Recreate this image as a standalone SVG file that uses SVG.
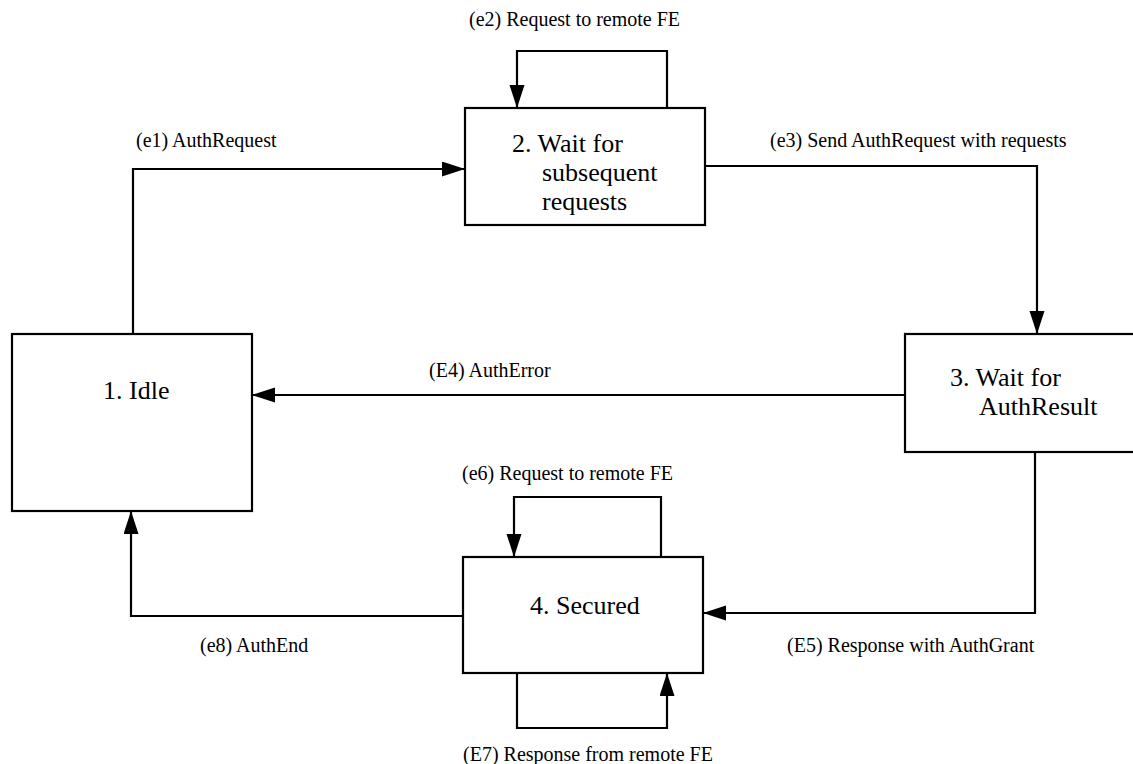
<svg xmlns="http://www.w3.org/2000/svg" width="1133" height="764" viewBox="0 0 1133 764">
<style>
.box{fill:#fff;stroke:#000;stroke-width:2.2}
.conn{fill:none;stroke:#000;stroke-width:2.2}
text{font-family:'Liberation Serif','DejaVu Serif',serif;fill:#000}
.nt{font-size:26px}
.lb{font-size:20px}
</style>
<defs>
<marker id="ah" markerUnits="userSpaceOnUse" markerWidth="24" markerHeight="16" refX="23" refY="7.5" orient="auto">
<path d="M0,0 L23,7.5 L0,15 z" fill="#000"/>
</marker>
</defs>
<rect width="1133" height="764" fill="#fff"/>
<g id="connectors" font-family="Liberation Serif, serif">
<path class="conn" d="M133,334 V169 H465" marker-end="url(#ah)"/>
<path class="conn" d="M667,108 V51 H517 V108" marker-end="url(#ah)"/>
<path class="conn" d="M705,166 H1037 V334" marker-end="url(#ah)"/>
<path class="conn" d="M905,395 H252" marker-end="url(#ah)"/>
<path class="conn" d="M1035,452 V613 H703" marker-end="url(#ah)"/>
<path class="conn" d="M661,557 V497 H514 V557" marker-end="url(#ah)"/>
<path class="conn" d="M517,673 V728 H667 V673" marker-end="url(#ah)"/>
<path class="conn" d="M463,616 H131 V511" marker-end="url(#ah)"/>
<text class="lb" x="469" y="26">(e2) Request to remote FE</text>
<text class="lb" x="136" y="147">(e1) AuthRequest</text>
<text class="lb" x="770" y="147">(e3) Send AuthRequest with requests</text>
<text class="lb" x="429" y="377">(E4) AuthError</text>
<text class="lb" x="462" y="480">(e6) Request to remote FE</text>
<text class="lb" x="787" y="652">(E5) Response with AuthGrant</text>
<text class="lb" x="200" y="652">(e8) AuthEnd</text>
<text class="lb" x="463" y="761">(E7) Response from remote FE</text>
</g>
<g id="n1">
<rect class="box" x="12" y="334" width="240" height="177"/>
<text class="nt" x="103" y="399">1. Idle</text>
</g>
<g id="n2">
<rect class="box" x="465" y="108" width="240" height="117"/>
<text class="nt" x="512" y="152">2. Wait for</text>
<text class="nt" x="542" y="181">subsequent</text>
<text class="nt" x="542" y="210">requests</text>
</g>
<g id="n3">
<rect class="box" x="905" y="334" width="240" height="118"/>
<text class="nt" x="950" y="386">3. Wait for</text>
<text class="nt" x="979" y="415">AuthResult</text>
</g>
<g id="n4">
<rect class="box" x="463" y="557" width="240" height="116"/>
<text class="nt" x="530" y="614">4. Secured</text>
</g>
</svg>
